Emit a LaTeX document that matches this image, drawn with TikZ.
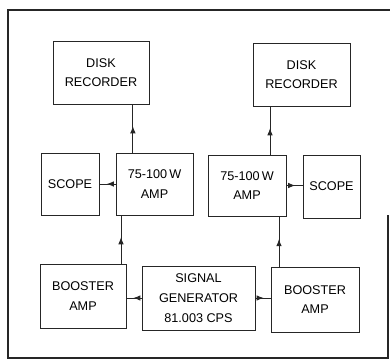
\documentclass[tikz,border=0pt]{standalone}
\usepackage{fontspec}
\setmainfont{Liberation Sans}
\usetikzlibrary{arrows.meta,calc,decorations.markings}

\begin{document}
\begin{tikzpicture}[x=0.25mm,y=-0.25mm,line width=0.7pt,
  every node/.style={font=\fontsize{9}{14}\selectfont},
  blk/.style={draw=black!85,align=center,inner sep=0pt},
  midarrow/.style={draw=black!85,decoration={markings,
    mark=at position 0.55 with {\arrow{Latex[length=1.8mm,width=1.4mm]}}},postaction={decorate}}]
\useasboundingbox (0,0) rectangle (390,361);
% outer frame (right side only shows in the lower part)
\draw[black!85,line width=0.9pt] (388,215) -- (388,358) -- (8,358) -- (8,10) -- (390,10);
% recorders
\node[blk,minimum width=24mm,minimum height=15.75mm] (diskL) at (101,72.5) {DISK\\RECORDER};
\node[blk,minimum width=24.25mm,minimum height=15.75mm] (diskR) at (301.5,74.5) {DISK\\RECORDER};
% amplifiers and scopes
\node[blk,minimum width=14.5mm,minimum height=15.5mm] (scopeL) at (70,184) {SCOPE};
\node[blk,minimum width=19.25mm,minimum height=15.5mm] (ampL) at (154.5,184) {75-100\,W\\AMP};
\node[blk,minimum width=19.5mm,minimum height=15.25mm] (ampR) at (247,185.5) {75-100\,W\\AMP};
\node[blk,minimum width=14.25mm,minimum height=15.75mm] (scopeR) at (331.5,186.5) {SCOPE};
% generator and boosters
\node[blk,minimum width=21.5mm,minimum height=16mm] (boostL) at (83,296) {BOOSTER\\AMP};
\node[blk,minimum width=28.25mm,minimum height=16mm] (gen) at (198.5,298) {SIGNAL\\GENERATOR\\81.003 CPS};
\node[blk,minimum width=22mm,minimum height=16.25mm] (boostR) at (315,299.5) {BOOSTER\\AMP};
% signal paths
\draw[midarrow] ([xshift=-5.4mm]ampL.north) -- ([xshift=-5.4mm]ampL.north |- diskL.south);
\draw[midarrow] ([xshift=5.75mm]ampR.north) -- ([xshift=5.75mm]ampR.north |- diskR.south);
\draw[midarrow] ([xshift=9.5mm]boostL.north) -- ([xshift=9.5mm]boostL.north |- ampL.south);
\draw[midarrow] ([xshift=-9mm]boostR.north) -- ([xshift=-9mm]boostR.north |- ampR.south);
\draw[midarrow] (ampL.west) -- (ampL.west -| scopeL.east);
\draw[midarrow] (ampR.east) -- (ampR.east -| scopeR.west);
\draw[midarrow] (gen.west) -- (gen.west -| boostL.east);
\draw[midarrow] (gen.east) -- (gen.east -| boostR.west);
\end{tikzpicture}
\end{document}
